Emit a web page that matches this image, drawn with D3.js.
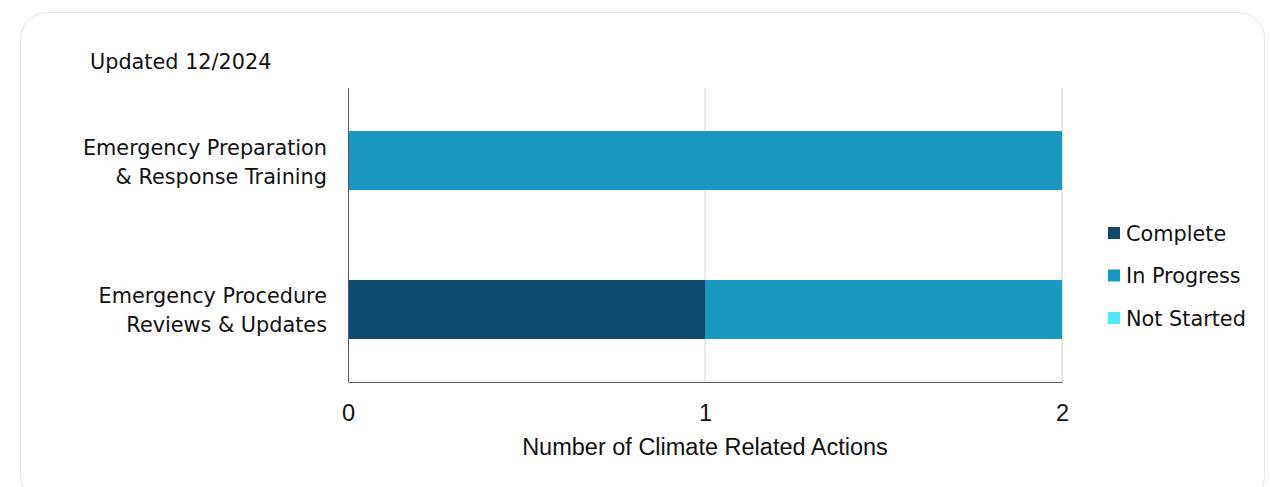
<!DOCTYPE html>
<html>
<head>
<meta charset="utf-8">
<script src="https://cdn.jsdelivr.net/npm/d3@7"></script>
<style>
  body { margin: 0; background: #fff; }
  svg { display: block; }
</style>
</head>
<body>
<svg id="chart"></svg>
<script>
// data
var categories = ["Emergency Preparation & Response Training", "Emergency Procedure Reviews & Updates"];
var categoryLines = [["Emergency Preparation", "& Response Training"], ["Emergency Procedure", "Reviews & Updates"]];
var seriesNames = ["Complete", "In Progress", "Not Started"];
var complete = [0, 1];
var inProgress = [2, 1];
var notStarted = [0, 0];
var xTicks = [0, 1, 2];
var colors = ["#0d4a6e", "#1798c0", "#4de8ff"];

var width = 1270, height = 487;
var margin = {top: 88, right: 208, bottom: 105, left: 348};
var innerW = width - margin.left - margin.right,
    innerH = height - margin.top - margin.bottom;

var svg = d3.select("#chart")
    .attr("width", width)
    .attr("height", height);

// card outline
svg.append("rect")
    .attr("x", 20.5).attr("y", 12.5)
    .attr("width", 1244).attr("height", 490)
    .attr("rx", 26)
    .attr("fill", "none")
    .attr("stroke", "#e6e6e6");

svg.append("text")
    .attr("x", 90).attr("y", 69)
    .style("font-family", "DejaVu Sans, sans-serif")
    .style("font-size", "20.8px")
    .attr("fill", "#111")
    .text("Updated 12/2024");

var g = svg.append("g")
    .attr("transform", "translate(" + margin.left + "," + margin.top + ")");

var xScale = d3.scaleLinear().domain([0, 2]).range([0, innerW]);
var yScale = d3.scaleBand().domain(categories).range([0, innerH])
    .paddingInner(0.604).paddingOuter(0.289);

// gridlines
g.selectAll(".grid")
    .data(xTicks.slice(1))
    .enter().append("line")
    .attr("x1", function(d) { return xScale(d); })
    .attr("x2", function(d) { return xScale(d); })
    .attr("y1", 0).attr("y2", innerH)
    .attr("stroke", "#d4d4d4");

var table = categories.map(function(c, i) {
  return {cat: c, "Complete": complete[i], "In Progress": inProgress[i], "Not Started": notStarted[i]};
});
var stacked = d3.stack().keys(seriesNames)(table);

g.selectAll(".series")
    .data(stacked)
    .enter().append("g")
    .attr("fill", function(d, i) { return colors[i]; })
    .selectAll("rect")
    .data(function(d) { return d; })
    .enter().append("rect")
    .attr("x", function(d) { return xScale(d[0]); })
    .attr("width", function(d) { return xScale(d[1]) - xScale(d[0]); })
    .attr("y", function(d) { return yScale(d.data.cat); })
    .attr("height", yScale.bandwidth());

// axes
var xAxis = g.append("g")
    .attr("transform", "translate(0," + innerH + ")")
    .call(d3.axisBottom(xScale).tickValues(xTicks).tickFormat(d3.format("d")).tickSize(0).tickPadding(22));
xAxis.select(".domain").attr("stroke", "#595959");
xAxis.selectAll("text")
    .style("font-family", "Liberation Sans, Arial, sans-serif")
    .style("font-size", "23.5px")
    .attr("fill", "#111");

g.append("line")
    .attr("x1", 0.5).attr("x2", 0.5)
    .attr("y1", 0).attr("y2", innerH)
    .attr("stroke", "#595959");

g.append("text")
    .attr("x", innerW / 2).attr("y", innerH + 73)
    .attr("text-anchor", "middle")
    .style("font-family", "Liberation Sans, Arial, sans-serif")
    .style("font-size", "23.5px")
    .attr("fill", "#111")
    .text("Number of Climate Related Actions");

// category labels
var labels = g.selectAll(".cat")
    .data(categories)
    .enter().append("text")
    .attr("text-anchor", "end")
    .style("font-family", "DejaVu Sans, sans-serif")
    .style("font-size", "20.8px")
    .attr("fill", "#111")
    .attr("transform", function(d) {
      return "translate(-21," + (yScale(d) + yScale.bandwidth() / 2) + ")";
    });
labels.selectAll("tspan")
    .data(function(d, i) { return categoryLines[i]; })
    .enter().append("tspan")
    .attr("x", 0)
    .attr("y", function(d, i) { return i === 0 ? -6 : 23; })
    .text(function(d) { return d; });

// legend
var legend = svg.append("g").attr("transform", "translate(1108,233)");
var item = legend.selectAll("g")
    .data(seriesNames)
    .enter().append("g")
    .attr("transform", function(d, i) { return "translate(0," + (i * 42.5) + ")"; });
item.append("rect")
    .attr("x", 0).attr("y", -6)
    .attr("width", 12).attr("height", 12)
    .attr("fill", function(d, i) { return colors[i]; });
item.append("text")
    .attr("x", 18).attr("y", 7.5)
    .style("font-family", "DejaVu Sans, sans-serif")
    .style("font-size", "20.8px")
    .attr("fill", "#111")
    .text(function(d) { return d; });
</script>
</body>
</html>
